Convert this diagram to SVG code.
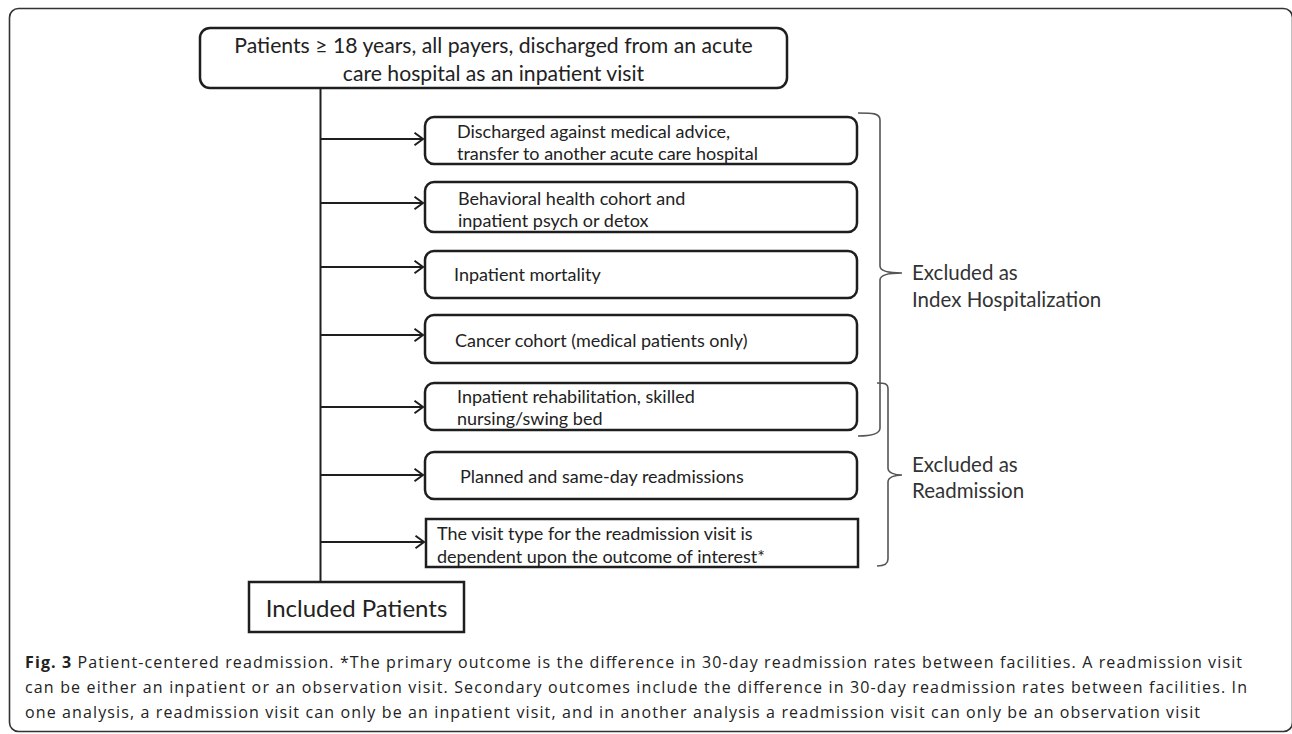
<svg xmlns="http://www.w3.org/2000/svg" width="1292" height="734" viewBox="0 0 1292 734">
<defs>
<marker id="arr" markerWidth="12" markerHeight="14" refX="10" refY="7" orient="auto" markerUnits="userSpaceOnUse">
<path d="M1.5,0.8 L10,7 L1.5,13.2" fill="none" stroke="#1e1e1e" stroke-width="2"/>
</marker>
<style>
.frame{fill:none;stroke:#333;stroke-width:1.6}
.box{fill:#fff;stroke:#1e1e1e;stroke-width:2.5}
.ln{fill:none;stroke:#1e1e1e;stroke-width:2}
.br{fill:none;stroke:#555;stroke-width:1.6}
.t{font-family:Lato,"Liberation Sans",sans-serif;font-size:18px;fill:#222}
.tb{font-family:Lato,"Liberation Sans",sans-serif;font-size:21.2px;fill:#222}
.lab{font-family:Lato,"Liberation Sans",sans-serif;font-size:20.5px;fill:#333}
.inc{font-family:Lato,"Liberation Sans",sans-serif;font-size:24px;fill:#222}
.cap{font-family:"Open Sans","Liberation Sans",sans-serif;font-size:16px;fill:#222}
</style>
</defs>
<rect class="frame" x="9.5" y="8.5" width="1283" height="723" rx="9"/>

<g id="connectors">
<line class="ln" x1="320.5" y1="88" x2="320.5" y2="582"/>
<line class="ln" x1="320.5" y1="139" x2="423" y2="139" marker-end="url(#arr)"/>
<line class="ln" x1="320.5" y1="203" x2="423" y2="203" marker-end="url(#arr)"/>
<line class="ln" x1="320.5" y1="267" x2="423" y2="267" marker-end="url(#arr)"/>
<line class="ln" x1="320.5" y1="335" x2="423" y2="335" marker-end="url(#arr)"/>
<line class="ln" x1="320.5" y1="407" x2="423" y2="407" marker-end="url(#arr)"/>
<line class="ln" x1="320.5" y1="475" x2="423" y2="475" marker-end="url(#arr)"/>
<line class="ln" x1="320.5" y1="542" x2="424" y2="542" marker-end="url(#arr)"/>
</g>

<g id="top">
<rect class="box" x="200" y="28" width="587" height="60" rx="10"/>
<text class="tb" x="493.5" y="53" text-anchor="middle">Patients ≥ 18 years, all payers, discharged from an acute</text>
<text class="tb" x="493.5" y="81" text-anchor="middle">care hospital as an inpatient visit</text>
</g>

<g id="ex1">
<rect class="box" x="425" y="117" width="432" height="47" rx="9"/>
<text class="t" x="457" y="138">Discharged against medical advice,</text>
<text class="t" x="457" y="160">transfer to another acute care hospital</text>
</g>
<g id="ex2">
<rect class="box" x="425" y="182" width="432" height="50" rx="9"/>
<text class="t" x="458" y="205">Behavioral health cohort and</text>
<text class="t" x="458" y="227">inpatient psych or detox</text>
</g>
<g id="ex3">
<rect class="box" x="425" y="251" width="432" height="47" rx="9"/>
<text class="t" x="454" y="281">Inpatient mortality</text>
</g>
<g id="ex4">
<rect class="box" x="425" y="315" width="432" height="48" rx="9"/>
<text class="t" x="455" y="347">Cancer cohort (medical patients only)</text>
</g>
<g id="ex5">
<rect class="box" x="425" y="383" width="432" height="47" rx="9"/>
<text class="t" x="457" y="403">Inpatient rehabilitation, skilled</text>
<text class="t" x="457" y="425">nursing/swing bed</text>
</g>
<g id="ex6">
<rect class="box" x="425" y="452" width="432" height="47" rx="9"/>
<text class="t" x="460" y="483">Planned and same-day readmissions</text>
</g>
<g id="ex7">
<rect class="box" x="426" y="519" width="432" height="48"/>
<text class="t" x="437" y="540">The visit type for the readmission visit is</text>
<text class="t" x="437" y="563">dependent upon the outcome of interest*</text>
</g>

<g id="included">
<rect class="box" x="249" y="582" width="215" height="50"/>
<text class="inc" x="356.5" y="617" text-anchor="middle">Included Patients</text>
</g>

<g id="index-brace">
<path class="br" d="M858,113 C872,113 880,113 880,120 L880,266 C880,271 890,273 902,273 C890,273 880,275 880,280 L880,428 C880,434 872,436 858,436"/>
<text class="lab" x="912" y="280">Excluded as</text>
<text class="lab" x="912" y="307">Index Hospitalization</text>
</g>
<g id="readm-brace">
<path class="br" d="M877,383 C884,383 888,383 888,389 L888,468 C888,473 895,475 902,475 C895,475 888,477 888,482 L888,559 C888,564 884,566 877,566"/>
<text class="lab" x="912" y="472">Excluded as</text>
<text class="lab" x="912" y="498">Readmission</text>
</g>

<g id="caption">
<text class="cap" x="25" y="668" textLength="1217"><tspan font-weight="bold">Fig. 3</tspan> Patient-centered readmission. *The primary outcome is the difference in 30-day readmission rates between facilities. A readmission visit</text>
<text class="cap" x="25" y="693" textLength="1222">can be either an inpatient or an observation visit. Secondary outcomes include the difference in 30-day readmission rates between facilities. In</text>
<text class="cap" x="25" y="718" textLength="1175">one analysis, a readmission visit can only be an inpatient visit, and in another analysis a readmission visit can only be an observation visit</text>
</g>
</svg>
